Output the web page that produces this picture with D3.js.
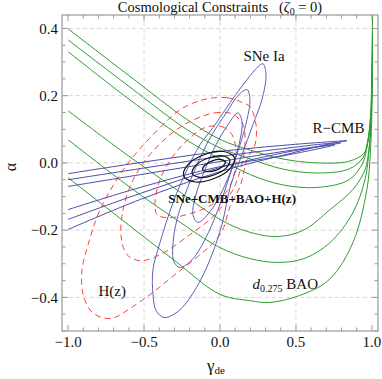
<!DOCTYPE html>
<html>
<head>
<meta charset="utf-8">
<script src="https://cdn.jsdelivr.net/npm/d3@7"></script>
<style>
body{margin:0;background:#fff}
svg{display:block}
text{font-family:"Liberation Serif","Times New Roman",serif;fill:#111}
</style>
</head>
<body>
<svg width="382" height="379"></svg>
<script>
// axis ticks
const xTicks = [-1, -0.5, 0, 0.5, 1]
const yTicks = [-0.4, -0.2, 0, 0.2, 0.4]

// contours, [gamma_de, alpha]
const bao = [
  [[-1,0.399],[-0.6,0.26],[-0.22,0.13],[0,0.07],[0.2,0.038],[0.41,0.012],[0.64,0],[0.85,0.005],[0.95,0.03],[0.975,0.065],[0.993,0.13],[1,0.22],[1.003,0.33],[1.004,0.45]],
  [[-1,0.366],[-0.6,0.228],[-0.22,0.1],[0,0.045],[0.2,0.012],[0.41,-0.018],[0.64,-0.03],[0.85,-0.018],[0.94,0.015],[0.97,0.06],[0.99,0.13],[0.999,0.22],[1.003,0.33],[1.004,0.45]],
  [[-1,0.331],[-0.6,0.19],[-0.22,0.068],[0,0.012],[0.2,-0.035],[0.41,-0.065],[0.64,-0.073],[0.85,-0.05],[0.94,0],[0.968,0.05],[0.988,0.12],[0.998,0.22],[1.003,0.33],[1.004,0.45]],
  [[-1,0.155],[-0.6,0.02],[-0.3,-0.075],[0,-0.168],[0.18,-0.204],[0.375,-0.219],[0.55,-0.2],[0.724,-0.139],[0.875,-0.079],[0.955,-0.02],[0.98,0.04],[0.994,0.12],[1,0.22],[1.003,0.33],[1.004,0.45]],
  [[-1,0.069],[-0.6,-0.07],[-0.3,-0.165],[0,-0.252],[0.2,-0.285],[0.38,-0.296],[0.55,-0.285],[0.724,-0.237],[0.875,-0.148],[0.954,-0.05],[0.98,0.03],[0.993,0.11],[1,0.22],[1.003,0.33],[1.004,0.45]],
  [[-1,-0.044],[-0.6,-0.185],[-0.3,-0.29],[0,-0.391],[0.2,-0.41],[0.33,-0.415],[0.55,-0.39],[0.724,-0.345],[0.875,-0.237],[0.967,-0.079],[0.99,0.03],[0.998,0.12],[1.002,0.22],[1.003,0.33],[1.004,0.45]]
]

const hz = [
  [[-0.112,0.188],[0.046,0.194],[0.151,0.179],[0.197,0.167],[0.237,0.114],[0.23,0.054],[0.178,0.01],[0.132,-0.07],[0.066,-0.13],[0,-0.213],[-0.309,-0.337],[-0.572,-0.427],[-0.724,-0.463],[-0.842,-0.444],[-0.901,-0.391],[-0.908,-0.317],[-0.868,-0.243],[-0.789,-0.139],[-0.612,-0.005],[-0.395,0.105],[-0.263,0.158]],
  [[-0.197,0.123],[-0.033,0.149],[0.079,0.146],[0.151,0.114],[0.164,0.054],[0.138,-0.014],[0.086,-0.079],[-0.033,-0.154],[-0.197,-0.213],[-0.395,-0.273],[-0.526,-0.291],[-0.612,-0.273],[-0.651,-0.219],[-0.638,-0.139],[-0.572,-0.05],[-0.461,0.025],[-0.329,0.084]],
  [[-0.099,0.105],[0.013,0.108],[0.079,0.084],[0.105,0.04],[0.099,-0.02],[0.053,-0.079],[-0.053,-0.124],[-0.197,-0.151],[-0.342,-0.163],[-0.414,-0.154],[-0.428,-0.118],[-0.395,-0.05],[-0.316,0.016],[-0.211,0.069]]
]

const sne = [
  [[0.283,0.295],[0.303,0.262],[0.276,0.188],[0.217,0.114],[0.145,0.025],[0.072,-0.064],[0.013,-0.183],[-0.053,-0.273],[-0.132,-0.352],[-0.23,-0.421],[-0.296,-0.448],[-0.368,-0.46],[-0.421,-0.439],[-0.441,-0.391],[-0.441,-0.317],[-0.395,-0.237],[-0.309,-0.118],[-0.217,-0.02],[-0.132,0.054],[-0.046,0.105],[0.066,0.179],[0.178,0.248],[0.25,0.286]],
  [[0.178,0.218],[0.197,0.188],[0.178,0.129],[0.132,0.054],[0.066,-0.035],[-0.013,-0.139],[-0.099,-0.228],[-0.184,-0.288],[-0.263,-0.311],[-0.303,-0.294],[-0.309,-0.237],[-0.283,-0.168],[-0.23,-0.094],[-0.151,-0.005],[-0.053,0.084],[0.046,0.152],[0.118,0.2]],
  [[0.118,0.149],[0.145,0.123],[0.132,0.069],[0.086,-0.005],[0.013,-0.085],[-0.066,-0.145],[-0.145,-0.177],[-0.178,-0.154],[-0.158,-0.094],[-0.099,-0.02],[-0.026,0.054],[0.053,0.114]]
]

const cmb = [
  [[-1,-0.032],[-0.526,0.001],[0,0.034],[0.461,0.054],[0.724,0.063],[0.836,0.066],[0.724,0.057],[0.461,0.028],[0,-0.026],[-0.526,-0.109],[-1,-0.198]],
  [[-1,-0.05],[-0.526,-0.017],[0,0.019],[0.461,0.045],[0.691,0.057],[0.796,0.06],[0.691,0.051],[0.461,0.034],[0,-0.014],[-0.526,-0.091],[-1,-0.168]],
  [[-1,-0.07],[-0.526,-0.035],[0,0.004],[0.461,0.037],[0.757,0.054],[0.461,0.025],[0,-0.011],[-0.526,-0.073],[-1,-0.139]]
]

const joint = [
  [[0.095,0.016],[0.066,-0.017],[-0.043,-0.047],[-0.17,-0.056],[-0.239,-0.038],[-0.211,-0.005],[-0.101,0.025],[0.025,0.034]],
  [[0.064,0.009],[0.043,-0.014],[-0.039,-0.036],[-0.132,-0.043],[-0.183,-0.031],[-0.161,-0.008],[-0.08,0.014],[0.014,0.021]],
  [[0.035,0.004],[0.021,-0.009],[-0.028,-0.022],[-0.084,-0.026],[-0.114,-0.02],[-0.1,-0.007],[-0.051,0.006],[0.005,0.01]]
]

const svg = d3.select("svg")
const margin = {top:15, right:4, bottom:48, left:62}
const width = +svg.attr("width") - margin.left - margin.right
const height = +svg.attr("height") - margin.top - margin.bottom

const x = d3.scaleLinear().domain([-1.04, 1.04]).range([0, width])
const y = d3.scaleLinear().domain([-0.5, 0.44]).range([height, 0])

const chart = svg.append("g")
    .attr("transform", `translate(${margin.left},${margin.top})`)

chart.append("clipPath").attr("id", "clip")
  .append("rect").attr("x", 0).attr("y", 0).attr("width", width).attr("height", height)

// dashed grid
const grid = chart.append("g").attr("stroke", "#d8d8d8").attr("stroke-dasharray", "4,3")
grid.selectAll(".gx").data(xTicks.filter(d => Math.abs(d) < 1)).enter().append("line")
    .attr("x1", d => x(d)).attr("x2", d => x(d)).attr("y1", 0).attr("y2", height)
grid.selectAll(".gy").data(yTicks).enter().append("line")
    .attr("y1", d => y(d)).attr("y2", d => y(d)).attr("x1", 0).attr("x2", width)

const plot = chart.append("g").attr("clip-path", "url(#clip)").attr("fill", "none")

const open = d3.line().x(d => x(d[0])).y(d => y(d[1])).curve(d3.curveCatmullRom.alpha(0.5))
const closed = d3.line().x(d => x(d[0])).y(d => y(d[1])).curve(d3.curveCatmullRomClosed.alpha(0.5))

plot.selectAll(".bao").data(bao).enter().append("path")
    .attr("d", open).attr("stroke", "#2f9e2f").attr("stroke-width", 1)

plot.selectAll(".hz").data(hz).enter().append("path")
    .attr("d", closed).attr("stroke", "#ff4040").attr("stroke-width", 1)
    .attr("stroke-dasharray", "6,4")

plot.selectAll(".sne").data(sne).enter().append("path")
    .attr("d", closed).attr("stroke", "#5f5fb8").attr("stroke-width", 1)

plot.selectAll(".cmb").data(cmb).enter().append("path")
    .attr("d", open).attr("stroke", "#4c4cad").attr("stroke-width", 1)

plot.selectAll(".joint").data(joint).enter().append("path")
    .attr("d", closed).attr("stroke", "#111").attr("stroke-width", 1.2)

// frame with inward ticks
const frame = chart.append("g").attr("stroke", "#999").attr("fill", "none")
frame.append("rect").attr("width", width).attr("height", height).attr("stroke-width", 1.2)

const xMinor = d3.range(-1, 1.001, 0.1)
const yMinor = d3.range(-0.5, 0.44, 0.05)
const isMajor = (arr, v) => arr.some(t => Math.abs(t - v) < 1e-6)

frame.selectAll(".tx").data(xMinor).enter().append("path")
    .attr("d", d => {
      const l = isMajor(xTicks, d) ? 6 : 3.5
      return `M${x(d)},${height}v${-l}M${x(d)},0v${l}`
    })
frame.selectAll(".ty").data(yMinor).enter().append("path")
    .attr("d", d => {
      const l = isMajor(yTicks, d) ? 6 : 3.5
      return `M0,${y(d)}h${l}M${width},${y(d)}h${-l}`
    })

const fmt = d3.format(".1f")
chart.selectAll(".xl").data(xTicks).enter().append("text")
    .attr("x", d => x(d)).attr("y", height + 16)
    .attr("text-anchor", "middle").style("font-size", "15px")
    .text(d => fmt(d))
chart.selectAll(".yl").data(yTicks).enter().append("text")
    .attr("x", -4).attr("y", d => y(d)).attr("dy", "0.35em")
    .attr("text-anchor", "end").style("font-size", "15px")
    .text(d => fmt(d))

// axis titles
const xt = chart.append("text").attr("x", width / 2 - 4).attr("y", height + 40)
    .attr("text-anchor", "middle").style("font-size", "17px")
xt.append("tspan").text("γ")
xt.append("tspan").attr("dy", 3).style("font-size", "11px").text("de")

chart.append("text")
    .attr("transform", `translate(${-46},${y(-0.012)}) rotate(-90)`)
    .attr("text-anchor", "middle").style("font-size", "16px").text("α")

const title = svg.append("text").attr("x", 220).attr("y", 12)
    .attr("text-anchor", "middle").style("font-size", "14.5px").style("white-space", "pre")
title.append("tspan").text("Cosmological Constraints   (")
title.append("tspan").style("font-style", "italic").text("ζ")
title.append("tspan").attr("dy", 3).style("font-size", "10px").text("0")
title.append("tspan").attr("dy", -3).text(" = 0)")

// curve labels
chart.append("text").attr("x", x(0.29)).attr("y", y(0.304))
    .attr("text-anchor", "middle").style("font-size", "15px").text("SNe Ia")
chart.append("text").attr("x", x(0.78)).attr("y", y(0.09))
    .attr("text-anchor", "middle").style("font-size", "15px").text("R\u2212CMB")
chart.append("text").attr("x", x(0.08)).attr("y", y(-0.118))
    .attr("text-anchor", "middle").style("font-size", "13px").style("font-weight", "bold")
    .text("SNe+CMB+BAO+H(z)")
chart.append("text").attr("x", x(-0.71)).attr("y", y(-0.397))
    .attr("text-anchor", "middle").style("font-size", "15px").text("H(z)")
const bl = chart.append("text").attr("x", x(0.43)).attr("y", y(-0.374))
    .attr("text-anchor", "middle").style("font-size", "15px")
bl.append("tspan").style("font-style", "italic").text("d")
bl.append("tspan").attr("dy", 3).style("font-size", "10px").text("0.275")
bl.append("tspan").attr("dy", -3).text(" BAO")
</script>
</body>
</html>
